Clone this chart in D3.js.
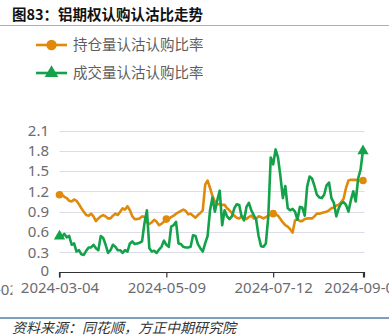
<!DOCTYPE html>
<html>
<head>
<meta charset="utf-8">
<script src="https://cdn.jsdelivr.net/npm/d3@7/dist/d3.min.js"></script>
<style>
  html, body { margin: 0; padding: 0; background: #fff; }
  svg { display: block; }
</style>
</head>
<body>
<svg id="chart" width="389" height="336"></svg>
<script>
// Aluminium option put/call ratio, daily, 2024-03-04 onwards
const seriesNames = ["持仓量认沽认购比率", "成交量认沽认购比率"];

// open-interest put/call ratio
const oiRatio = [
  1.15, 1.15, 1.12, 1.10, 1.06, 1.05, 1.08, 1.06, 1.01, 0.95,
  0.90, 0.85, 0.84, 0.87, 0.83, 0.76, 0.80, 0.83, 0.85, 0.83,
  0.80, 0.80, 0.84, 0.87, 0.85, 0.90, 0.95, 0.93, 0.98, 0.92,
  0.83, 0.79, 0.79, 0.80, 0.83, 0.82, 0.74, 0.72, 0.74, 0.78,
  0.75, 0.70, 0.72, 0.75, 0.79, 0.79, 0.82, 0.84, 0.87, 0.89,
  0.91, 0.93, 0.91, 0.86, 0.87, 0.84, 0.81, 0.85, 0.88, 0.92,
  1.30, 1.36, 1.25, 1.13, 1.05, 1.01, 1.01, 1.00, 1.00, 0.95,
  0.92, 0.88, 0.84, 0.81, 0.80, 0.83, 0.82, 0.79, 0.82, 0.84,
  0.80, 0.80, 0.83, 0.82, 0.80, 0.82, 0.84, 0.86, 0.87, 0.86,
  0.84, 0.79, 0.74, 0.70, 0.68, 0.64, 0.59, 0.77, 0.79, 0.76,
  0.76, 0.79, 0.80, 0.80, 0.80, 0.83, 0.87, 0.87, 0.88, 0.89,
  0.90, 0.92, 0.95, 0.96, 0.99, 1.00, 1.04, 1.09, 1.25, 1.36,
  1.37, 1.37, 1.37, 1.36, 1.36, 1.36
];

// volume put/call ratio
const volRatio = [
  0.55, 0.53, 0.57, 0.52, 0.54, 0.41, 0.43, 0.31, 0.33, 0.27,
  0.26, 0.32, 0.37, 0.37, 0.41, 0.36, 0.33, 0.54, 0.51, 0.41,
  0.29, 0.33, 0.41, 0.38, 0.33, 0.33, 0.29, 0.33, 0.31, 0.43,
  0.46, 0.42, 0.43, 0.44, 0.46, 0.73, 0.92, 0.36, 0.31, 0.32,
  0.29, 0.34, 0.38, 0.47, 0.41, 0.38, 0.68, 0.70, 0.75, 0.43,
  0.42, 0.38, 0.37, 0.37, 0.38, 0.55, 0.54, 0.42, 0.36, 0.31,
  0.43, 0.54, 0.92, 1.11, 0.90, 1.07, 1.21, 0.70, 0.92, 0.83,
  0.79, 0.83, 0.95, 1.01, 1.00, 0.83, 0.77, 0.97, 1.03, 0.92,
  0.85, 0.78, 0.54, 0.39, 0.38, 0.43, 0.83, 1.70, 1.60, 1.82,
  1.70, 1.42, 1.10, 1.28, 0.95, 0.92, 0.94, 0.90, 0.78, 0.97,
  0.96, 0.84, 1.27, 1.42, 1.39, 1.28, 1.15, 1.11, 1.10, 1.15,
  1.29, 1.33, 1.10, 1.03, 0.83, 0.95, 1.02, 1.04, 1.00, 0.90,
  1.07, 1.20, 1.05, 1.39, 1.52, 1.81
];

// x-axis labels: trading-day index and date
const xTickIndex = [0, 44, 88, 125];
const xTickLabels = ["2024-03-04", "2024-05-09", "2024-07-12", "2024-09-04"];
const yTicks = [0, 0.3, 0.6, 0.9, 1.2, 1.5, 1.8, 2.1];

const colors = ["#e08a0c", "#13a24a"];
const cjk = "'Noto Sans CJK SC', 'Noto Sans', sans-serif";
const latin = "'Noto Sans', 'Noto Sans CJK SC', sans-serif";

const svg = d3.select("#chart");

// header
svg.append("text")
  .attr("x", 12).attr("y", 20)
  .attr("font-family", cjk).attr("font-size", 14.5).attr("font-weight", "bold")
  .attr("fill", "#111")
  .text("图83：铝期权认购认沽比走势");
svg.append("line")
  .attr("x1", 0).attr("x2", 389).attr("y1", 25.5).attr("y2", 25.5)
  .attr("stroke", "#9fb2c4").attr("stroke-width", 1);

// scales
const x = d3.scaleLinear().domain([0, oiRatio.length - 1]).range([59.5, 363]);
const y = d3.scaleLinear().domain([0, 2.1]).range([272.5, 130.5]);

// horizontal grid
svg.append("g")
  .selectAll("line")
  .data(yTicks.filter(d => d > 0))
  .join("line")
  .attr("x1", x.range()[0]).attr("x2", x.range()[1] + 1.5)
  .attr("y1", d => Math.round(y(d)) + 0.5).attr("y2", d => Math.round(y(d)) + 0.5)
  .attr("stroke", "#dcdde8").attr("stroke-width", 1);

// y axis labels
const yAxis = d3.axisLeft(y).tickValues(yTicks).tickSize(0).tickPadding(0)
  .tickFormat(d => d === 0 ? "0" : d3.format(".1f")(d));
const gy = svg.append("g").attr("transform", "translate(49,0)").call(yAxis);
gy.select(".domain").remove();
gy.selectAll("text")
  .attr("font-family", latin).attr("font-size", 15).attr("fill", "#6b6b72");
// the baseline label sits a touch higher so it clears the date row
gy.selectAll(".tick").filter(d => d === 0).select("text").attr("dy", "0.2em");

// x axis
const xAxis = d3.axisBottom(x).tickValues(xTickIndex).tickSize(5).tickPadding(5)
  .tickFormat((d, i) => xTickLabels[i]);
const gx = svg.append("g").attr("transform", "translate(0,272.5)").call(xAxis);
gx.select(".domain").attr("d", `M${x.range()[0]},5V0H${x.range()[1] + 1.5}V5`)
  .attr("stroke", "#333").attr("stroke-width", 1.2);
gx.selectAll(".tick line").attr("stroke", "#333").attr("stroke-width", 1.2);
gx.selectAll("text")
  .attr("font-family", latin).attr("font-size", 15).attr("fill", "#6b6b72");

// label of the previous period, cut by the left border of the axis area
const clip = svg.append("clipPath").attr("id", "leftcut");
clip.append("rect").attr("x", 0).attr("y", 278).attr("width", 12.5).attr("height", 24);
svg.append("text")
  .attr("clip-path", "url(#leftcut)")
  .attr("x", 18).attr("y", 295).attr("text-anchor", "end")
  .attr("font-family", latin).attr("font-size", 15).attr("fill", "#6b6b72")
  .text("2024-01-02");

// lines
const lineGen = d3.line().x((d, i) => x(i)).y(d => y(d)).curve(d3.curveLinear);
[oiRatio, volRatio].forEach((s, k) => {
  svg.append("path")
    .datum(s)
    .attr("d", lineGen)
    .attr("fill", "none")
    .attr("stroke", colors[k])
    .attr("stroke-width", 2.6)
    .attr("stroke-linejoin", "round");
});

// markers
const tri = d3.symbol().type(d3.symbolTriangle).size(55);
svg.append("g").selectAll("circle")
  .data(xTickIndex)
  .join("circle")
  .attr("cx", i => x(i)).attr("cy", i => y(oiRatio[i]))
  .attr("r", 3.8).attr("fill", colors[0]);
svg.append("g").selectAll("path")
  .data([0, volRatio.length - 1])
  .join("path")
  .attr("d", tri)
  .attr("transform", i => `translate(${x(i)},${y(volRatio[i]) + 1})`)
  .attr("fill", colors[1]);

// legend
const legend = svg.append("g");
const legendY = [45, 73];
seriesNames.forEach((name, k) => {
  legend.append("line")
    .attr("x1", 36).attr("x2", 67).attr("y1", legendY[k]).attr("y2", legendY[k])
    .attr("stroke", colors[k]).attr("stroke-width", 2.6);
  if (k === 0) {
    legend.append("circle").attr("cx", 51.5).attr("cy", legendY[k]).attr("r", 5.2)
      .attr("fill", colors[k]);
  } else {
    legend.append("path")
      .attr("d", d3.symbol().type(d3.symbolTriangle).size(80))
      .attr("transform", `translate(51.5,${legendY[k]})`)
      .attr("fill", colors[k]);
  }
  legend.append("text")
    .attr("x", 73).attr("y", legendY[k]).attr("dy", "0.35em")
    .attr("font-family", cjk).attr("font-size", 14.5).attr("fill", "#5e5e5e")
    .text(name);
});

// source footer
svg.append("line")
  .attr("x1", 0).attr("x2", 389).attr("y1", 318).attr("y2", 318)
  .attr("stroke", "#4f7fa6").attr("stroke-width", 1.6);
svg.append("text")
  .attr("x", 12).attr("y", 333)
  .attr("font-family", cjk).attr("font-size", 14).attr("font-style", "italic")
  .attr("fill", "#333")
  .text("资料来源：同花顺，方正中期研究院");
</script>
</body>
</html>
